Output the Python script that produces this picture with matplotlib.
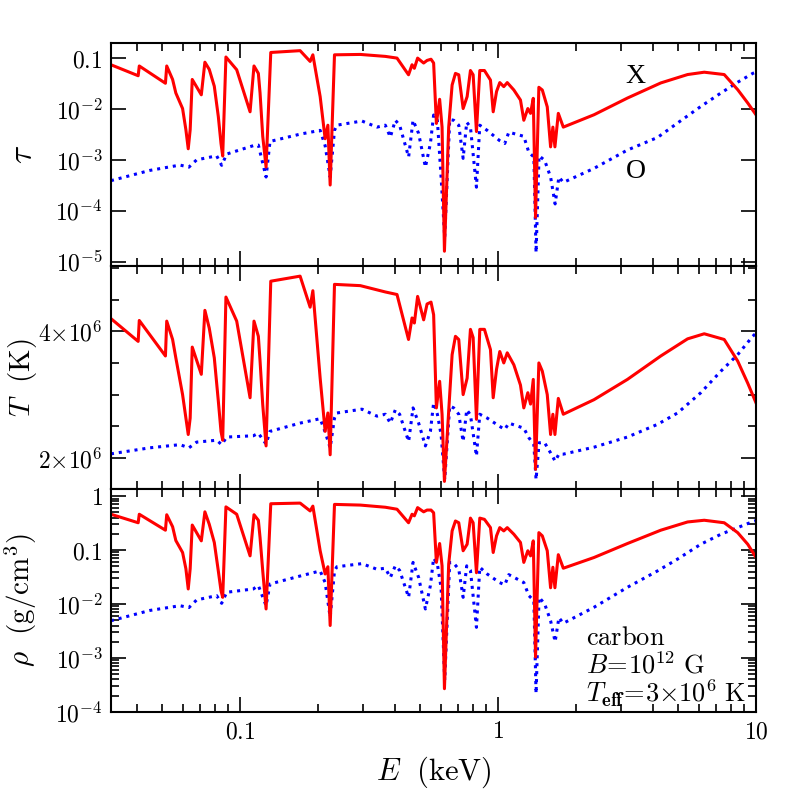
import matplotlib
matplotlib.use("Agg")
import matplotlib.pyplot as plt
import numpy as np
from matplotlib.ticker import LogLocator, NullFormatter, MultipleLocator

# ---------------- data ----------------
# X mode (red, solid)
E_x = [0.0316, 0.0403, 0.0407, 0.0514, 0.0520, 0.0548, 0.0564, 0.0599, 0.0617, 0.0630,
       0.0641, 0.0653, 0.0708, 0.0731, 0.0760, 0.0795, 0.0824, 0.0844, 0.0857, 0.0882,
       0.0971, 0.1094, 0.1133, 0.1178, 0.1196, 0.1225, 0.1262, 0.1316, 0.171, 0.187,
       0.1916, 0.2045, 0.2138, 0.2191, 0.2236, 0.2324, 0.2926, 0.366, 0.406,
       0.450, 0.4643, 0.474, 0.488, 0.515, 0.531, 0.550, 0.563, 0.577, 0.594,
       0.607, 0.620, 0.644, 0.664, 0.684, 0.7045, 0.7326, 0.7592, 0.782, 0.801,
       0.825, 0.850, 0.886, 0.935, 0.958, 0.987, 1.016, 1.053, 1.086, 1.152,
       1.222, 1.259, 1.305, 1.337, 1.370, 1.398, 1.440, 1.485, 1.552, 1.599,
       1.632, 1.662, 1.713, 1.791, 2.356, 3.175, 4.276, 5.43, 6.30, 7.53,
       8.49, 9.29, 10.0]
tau_x = [0.074, 0.045, 0.070, 0.032, 0.070, 0.038, 0.0206, 0.0102, 0.0039, 0.00165,
         0.0039, 0.038, 0.019, 0.083, 0.060, 0.028, 0.0071, 0.0021, 0.00119, 0.105,
         0.059, 0.0088, 0.070, 0.050, 0.0206, 0.0029, 0.00072, 0.129, 0.14, 0.086,
         0.116, 0.0175, 0.0026, 0.0048, 0.00032, 0.116, 0.118, 0.108, 0.100,
         0.047, 0.074, 0.063, 0.10, 0.08, 0.09, 0.095, 0.08, 0.0052, 0.0155,
         0.0044, 1.6e-5, 0.0044, 0.0296, 0.050, 0.047, 0.0102, 0.0175, 0.057, 0.047,
         0.0036, 0.057, 0.057, 0.037, 0.0088, 0.022, 0.033, 0.0275, 0.033, 0.0236,
         0.015, 0.006, 0.0102, 0.0082, 0.0162, 7.4e-5, 0.0267, 0.0236, 0.011, 0.0018,
         0.0044, 0.0018, 0.0082, 0.0044, 0.0077, 0.0164, 0.0325, 0.0475, 0.0528, 0.0475,
         0.024, 0.0131, 0.0077]
T_x = [4.20e6, 3.84e6, 4.17e6, 3.61e6, 4.16e6, 3.87e6, 3.58e6, 3.00e6, 2.63e6, 2.37e6,
       2.63e6, 3.75e6, 3.32e6, 4.33e6, 4.05e6, 3.58e6, 2.90e6, 2.42e6, 2.28e6, 4.54e6,
       4.16e6, 2.95e6, 4.16e6, 3.92e6, 3.53e6, 2.84e6, 2.19e6, 4.79e6, 4.87e6, 4.38e6,
       4.64e6, 3.26e6, 2.42e6, 2.71e6, 2.05e6, 4.74e6, 4.72e6, 4.62e6, 4.58e6,
       3.87e6, 4.21e6, 4.13e6, 4.55e6, 4.18e6, 4.43e6, 4.46e6, 4.26e6, 2.79e6, 3.21e6,
       2.69e6, 1.63e6, 2.74e6, 3.63e6, 3.92e6, 3.87e6, 3.00e6, 3.26e6, 4.03e6, 3.90e6,
       2.61e6, 4.03e6, 4.03e6, 3.71e6, 2.95e6, 3.40e6, 3.68e6, 3.50e6, 3.66e6, 3.47e6,
       3.15e6, 2.79e6, 3.03e6, 2.85e6, 3.24e6, 1.82e6, 3.50e6, 3.37e6, 3.00e6, 2.37e6,
       2.69e6, 2.37e6, 2.94e6, 2.69e6, 2.92e6, 3.24e6, 3.61e6, 3.88e6, 3.96e6, 3.87e6,
       3.53e6, 3.18e6, 2.87e6]
rho_x = [0.46, 0.32, 0.46, 0.233, 0.45, 0.27, 0.15, 0.09, 0.045, 0.019,
         0.045, 0.29, 0.148, 0.51, 0.30, 0.138, 0.041, 0.0177, 0.0133, 0.63,
         0.46, 0.078, 0.45, 0.356, 0.17, 0.041, 0.0081, 0.72, 0.74, 0.53,
         0.65, 0.097, 0.036, 0.049, 0.004, 0.70, 0.68, 0.62, 0.57,
         0.32, 0.46, 0.43, 0.61, 0.51, 0.55, 0.55, 0.49, 0.059, 0.132,
         0.051, 2.7e-4, 0.055, 0.226, 0.345, 0.32, 0.097, 0.128, 0.39, 0.32,
         0.038, 0.39, 0.37, 0.26, 0.09, 0.183, 0.26, 0.226, 0.26, 0.196,
         0.138, 0.059, 0.097, 0.078, 0.148, 1.04e-3, 0.21, 0.183, 0.097, 0.020,
         0.048, 0.020, 0.082, 0.046, 0.0727, 0.132, 0.233, 0.331, 0.356, 0.32,
         0.21, 0.128, 0.073]

# O mode (blue, dotted)
E_o = [0.0316, 0.0447, 0.0585, 0.0634, 0.0679, 0.0812, 0.0849, 0.0888, 0.1126, 0.1178,
       0.1262, 0.1307, 0.171, 0.2045, 0.2138, 0.2236, 0.2324, 0.2374, 0.2969, 0.3396,
       0.3658, 0.3825, 0.400, 0.4156, 0.4504, 0.4685, 0.4925, 0.5231, 0.5470, 0.563,
       0.5821, 0.6017, 0.6215, 0.6499, 0.6735, 0.7045, 0.7326, 0.7565, 0.782, 0.825,
       0.850, 0.9078, 1.0134, 1.0627, 1.1013, 1.259, 1.317, 1.377, 1.4045, 1.4427,
       1.5157, 1.599, 1.665, 1.722, 1.791, 2.356, 3.175, 4.15, 4.966, 6.11,
       7.31, 8.49, 9.71, 10.0]
tau_o = [3.9e-4, 6.2e-4, 7.9e-4, 7.2e-4, 1.0e-3, 1.2e-3, 7.8e-4, 1.3e-3, 1.9e-3, 1.95e-3,
         4.6e-4, 2.3e-3, 3.2e-3, 3.8e-3, 1.9e-3, 4.6e-4, 3.8e-3, 4.8e-3, 5.8e-3, 4.4e-3,
         4.8e-3, 2.8e-3, 6.0e-3, 4.8e-3, 1.14e-3, 6.0e-3, 3.3e-3, 7.2e-4, 2.1e-3, 7.6e-3,
         6.0e-3, 4.6e-4, 3.0e-5, 6.2e-3, 6.0e-3, 4.8e-3, 1.07e-3, 5.5e-3, 4.4e-3, 2.9e-4,
         4.8e-3, 3.8e-3, 2.4e-3, 2.1e-3, 3.5e-3, 2.9e-3, 1.4e-3, 1.14e-3, 1.5e-5, 1.2e-3,
         9.8e-4, 4.6e-4, 1.36e-4, 4.6e-4, 3.6e-4, 6.8e-4, 1.56e-3, 2.75e-3, 5.3e-3, 0.0112,
         0.0206, 0.0335, 0.050, 0.053]
T_o = [2.065e6, 2.16e6, 2.21e6, 2.16e6, 2.25e6, 2.28e6, 2.21e6, 2.33e6, 2.35e6, 2.39e6,
       2.22e6, 2.42e6, 2.55e6, 2.62e6, 2.41e6, 2.16e6, 2.63e6, 2.71e6, 2.77e6, 2.66e6,
       2.69e6, 2.55e6, 2.76e6, 2.69e6, 2.26e6, 2.79e6, 2.55e6, 2.19e6, 2.42e6, 2.87e6,
       2.69e6, 2.37e6, 1.66e6, 2.82e6, 2.79e6, 2.69e6, 2.26e6, 2.76e6, 2.68e6, 2.03e6,
       2.69e6, 2.63e6, 2.50e6, 2.45e6, 2.55e6, 2.47e6, 2.32e6, 2.21e6, 1.66e6, 2.24e6,
       2.24e6, 2.08e6, 1.95e6, 2.06e6, 2.06e6, 2.17e6, 2.33e6, 2.53e6, 2.71e6, 3.03e6,
       3.37e6, 3.63e6, 3.92e6, 3.97e6]
rho_o = [4.9e-3, 7.6e-3, 9.3e-3, 8.6e-3, 0.0119, 0.0143, 0.0103, 0.0165, 0.019, 0.022,
         9.3e-3, 0.0235, 0.033, 0.041, 0.025, 5.7e-3, 0.041, 0.049, 0.056, 0.044,
         0.046, 0.031, 0.051, 0.042, 0.0133, 0.059, 0.031, 8.1e-3, 0.022, 0.071,
         0.055, 0.020, 3.9e-4, 0.059, 0.057, 0.044, 0.0133, 0.051, 0.042, 3.7e-3,
         0.048, 0.036, 0.025, 0.0227, 0.035, 0.025, 0.0143, 0.0116, 2.2e-4, 0.0133,
         0.0101, 4.9e-3, 2.0e-3, 5.6e-3, 4.4e-3, 8.7e-3, 0.0204, 0.041, 0.068, 0.128,
         0.196, 0.26, 0.336, 0.35]

xticks = [0.1, 1, 10]
xticklabels = [r'$0.1$', r'$1$', r'$10$']
tau_ticks = [1e-5, 1e-4, 1e-3, 1e-2, 0.1]
tau_labels = [r'$10^{-5}$', r'$10^{-4}$', r'$10^{-3}$', r'$10^{-2}$', r'$0.1$']
T_ticks = [2e6, 4e6]
T_labels = [r'$2{\times}10^{6}$', r'$4{\times}10^{6}$']
rho_ticks = [1e-4, 1e-3, 1e-2, 0.1, 1]
rho_labels = [r'$10^{-4}$', r'$10^{-3}$', r'$10^{-2}$', r'$0.1$', r'$1$']

# ---------------- plot ----------------
plt.rcParams['mathtext.fontset'] = 'cm'
plt.rcParams['font.family'] = 'DejaVu Serif'

fig = plt.figure(figsize=(7.97, 7.97), dpi=100)
gs = fig.add_gridspec(3, 1, left=111/797, right=756/797, bottom=1-712/797, top=1-43/797, hspace=0)
axes = [fig.add_subplot(gs[i]) for i in range(3)]

red = '#ff0000'
blue = '#0000ff'
dot = (0, (1, 1.6))

data = [(tau_x, tau_o), (T_x, T_o), (rho_x, rho_o)]
for ax, (yx, yo) in zip(axes, data):
    ax.plot(E_o, yo, color=blue, lw=2.2, linestyle=dot, dash_capstyle='butt')
    ax.plot(E_x, yx, color=red, lw=2.2, solid_joinstyle='round')
    ax.set_xscale('log')
    ax.set_xlim(10**-1.5, 10)
    for s in ax.spines.values():
        s.set_linewidth(1.5)
    ax.tick_params(which='both', direction='in', top=True, right=True, width=1.2)
    ax.tick_params(which='major', length=11)
    ax.tick_params(which='minor', length=5.5)
    ax.tick_params(axis='both', labelsize=17, pad=6)
    ax.set_xticks(xticks)
    ax.xaxis.set_minor_locator(LogLocator(base=10, subs=np.arange(2, 10)))
    ax.xaxis.set_minor_formatter(NullFormatter())

for ax in axes[:2]:
    ax.set_xticklabels([])
axes[2].set_xticklabels(xticklabels)

# tau panel
ax = axes[0]
ax.set_yscale('log')
ax.set_ylim(8.2e-6, 0.198)
ax.set_yticks(tau_ticks)
ax.set_yticklabels(tau_labels)
ax.yaxis.set_minor_locator(LogLocator(base=10, subs=np.arange(2, 10)))
ax.yaxis.set_minor_formatter(NullFormatter())
ax.set_ylabel(r'$\tau$', fontsize=24)
ax.text(3.42, 0.043, 'X', fontsize=20, family='Liberation Serif', ha='center', va='center')
ax.text(3.42, 0.00058, 'O', fontsize=20, family='Liberation Serif', ha='center', va='center')

# T panel
ax = axes[1]
ax.set_ylim(1.51e6, 5.03e6)
ax.set_yticks(T_ticks)
ax.set_yticklabels(T_labels)
ax.yaxis.set_minor_locator(MultipleLocator(0.5e6))
ax.set_ylabel(r'$T\ \ (\mathrm{K})$', fontsize=21)

# rho panel
ax = axes[2]
ax.set_yscale('log')
ax.set_ylim(1e-4, 1.35)
ax.set_yticks(rho_ticks)
ax.set_yticklabels(rho_labels)
ax.yaxis.set_minor_locator(LogLocator(base=10, subs=np.arange(2, 10)))
ax.yaxis.set_minor_formatter(NullFormatter())
ax.set_ylabel(r'$\rho\ \ (\mathrm{g/cm^3})$', fontsize=21)
ax.set_xlabel(r'$E\ \ (\mathrm{keV})$', fontsize=22, labelpad=8)
ax.text(0.737, 0.335, r'$\mathrm{carbon}$', transform=ax.transAxes, fontsize=19, va='center')
ax.text(0.737, 0.21, r'$B\!=\!10^{12}\ \mathrm{G}$', transform=ax.transAxes, fontsize=19, va='center')
ax.text(0.737, 0.085, r'$T_{\mathbf{eff}}\!=\!3{\times}10^{6}\ \mathrm{K}$', transform=ax.transAxes, fontsize=19, va='center')

# align y labels at a common horizontal position (right edge near x = 38 px)
for ax in axes:
    ax.yaxis.set_label_coords(-0.112, 0.5)

fig.savefig('out.png', dpi=100)
